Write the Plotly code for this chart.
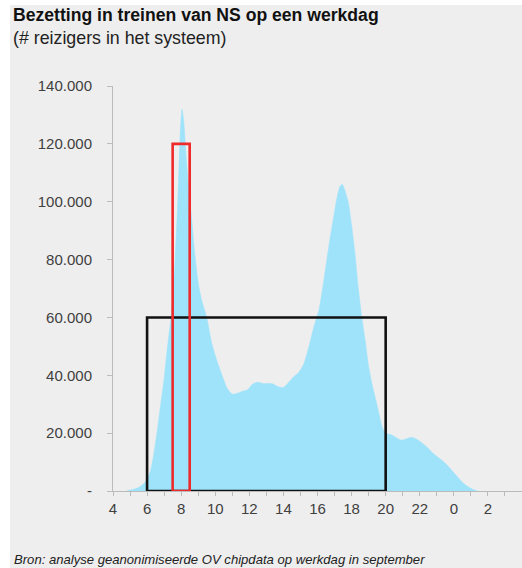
import plotly.graph_objects as go

# Hour of the day (values past 24 continue into the next night)
hours = [4.8, 5.2, 5.5, 5.8, 6.0, 6.2, 6.4, 6.6, 6.8, 7.0, 7.2, 7.4, 7.6, 7.8,
         7.95, 8.05, 8.15, 8.3, 8.45, 8.6, 8.8, 9.0, 9.2, 9.5, 9.8, 10.1, 10.4,
         10.7, 11.0, 11.3, 11.6, 11.9, 12.2, 12.5, 12.8, 13.1, 13.4, 13.7, 14.0,
         14.3, 14.6, 14.9, 15.2, 15.5, 15.8, 16.1, 16.4, 16.7, 16.9, 17.1, 17.3,
         17.45, 17.6, 17.8, 18.0, 18.2, 18.4, 18.6, 18.8, 19.0, 19.2, 19.4, 19.6,
         19.8, 20.0, 20.3, 20.6, 20.9, 21.2, 21.5, 21.8, 22.1, 22.4, 22.7, 23.0,
         23.3, 23.6, 23.9, 24.2, 24.5, 24.8, 25.1, 25.4]

# Travellers in the system (thousands)
travellers_k = [0, 0.6, 1.2, 2.5, 4, 7, 13, 21, 30, 39, 50, 60, 75, 100,
                124, 132, 128, 115, 104, 95, 82, 72, 66, 60, 51, 45, 40,
                35.5, 33.5, 33.8, 34.5, 35, 37, 37.6, 37.2, 37.2, 37, 36, 35.8,
                37.5, 39.5, 41, 44, 50, 57, 63, 74, 86, 93, 100, 105,
                106, 104, 100, 92, 82, 70, 60, 52, 43, 37, 32, 27,
                22, 20, 19.5, 18.5, 17.6, 18, 18.6, 18, 16.8, 15.3, 13.5, 12,
                10.6, 9, 7, 5, 3, 1.6, 0.6, 0]

x_tick_vals = [4, 6, 8, 10, 12, 14, 16, 18, 20, 22, 24, 26]
x_tick_text = ["4", "6", "8", "10", "12", "14", "16", "18", "20", "22", "0", "2"]
y_tick_vals = [0, 20000, 40000, 60000, 80000, 100000, 120000, 140000]
y_tick_text = ["-", "20.000", "40.000", "60.000", "80.000", "100.000", "120.000", "140.000"]

# Highlighted windows: morning peak hour and daytime span
peak_window = dict(x0=7.5, x1=8.5, y0=0, y1=120000)
day_window = dict(x0=6, x1=20, y0=0, y1=60000)

travellers = [v * 1000 for v in travellers_k]

fig = go.Figure()
fig.add_trace(go.Scatter(
    x=hours, y=travellers, mode="lines", fill="tozeroy",
    line=dict(color="#9fe3fb", width=0.5, shape="spline", smoothing=0.6),
    fillcolor="#9fe3fb", hoverinfo="skip", showlegend=False,
))

W, H = 522, 568
ml, mr, mt, mb = 113, 0, 86, 77
pw, ph = W - ml - mr, H - mt - mb

fig.add_shape(type="rect", xref="x", yref="y", layer="above",
              line=dict(color="#111111", width=2.6), **day_window)
fig.add_shape(type="rect", xref="x", yref="y", layer="above",
              line=dict(color="#ee2a2a", width=2.6), **peak_window)

# Grey panel behind the chart, leaving a thin white strip on the top/left
fig.add_shape(type="rect", xref="paper", yref="paper", layer="below",
              x0=(10 - ml) / pw, x1=(W - ml) / pw + 0.01,
              y0=-mb / ph - 0.01, y1=(H - 5 - mb) / ph,
              line=dict(width=0), fillcolor="#eeeeee")

font = "Liberation Sans, Arial, sans-serif"
fig.add_annotation(text="<b>Bezetting in treinen van NS op een werkdag</b>",
                   xref="paper", yref="paper", x=(11 - ml) / pw, y=(H - 15 - mb) / ph,
                   xanchor="left", yanchor="middle", showarrow=False,
                   font=dict(family=font, size=17.6, color="#111111"))
fig.add_annotation(text="(# reizigers in het systeem)",
                   xref="paper", yref="paper", x=(11 - ml) / pw, y=(H - 38 - mb) / ph,
                   xanchor="left", yanchor="middle", showarrow=False,
                   font=dict(family=font, size=17.8, color="#222222"))
fig.add_annotation(text="<i>Bron: analyse geanonimiseerde OV chipdata op werkdag in september</i>",
                   xref="paper", yref="paper", x=(12 - ml) / pw, y=(H - 559 - mb) / ph,
                   xanchor="left", yanchor="middle", showarrow=False,
                   font=dict(family=font, size=13.1, color="#222222"))

fig.update_layout(
    width=W, height=H,
    margin=dict(l=ml, r=mr, t=mt, b=mb),
    paper_bgcolor="white", plot_bgcolor="rgba(0,0,0,0)",
    font=dict(family=font, size=15, color="#404040"),
    xaxis=dict(range=[4, 28], tickvals=x_tick_vals, ticktext=x_tick_text,
               showgrid=False, zeroline=False, showline=True, linecolor="#bbbbbb",
               linewidth=1, ticks="outside", ticklen=4, tickcolor="#bbbbbb",
               minor=dict(dtick=1, ticks="outside", ticklen=4, tickcolor="#bbbbbb"),
               tickfont=dict(size=15, color="#404040")),
    yaxis=dict(range=[0, 140000], tickvals=y_tick_vals, ticktext=y_tick_text,
               showgrid=False, zeroline=False, showline=True, linecolor="#bbbbbb",
               linewidth=1, ticks="outside", ticklen=5, tickcolor="#bbbbbb",
               ticklabelstandoff=12, tickfont=dict(size=15, color="#404040")),
)

fig.write_html("out.html")
